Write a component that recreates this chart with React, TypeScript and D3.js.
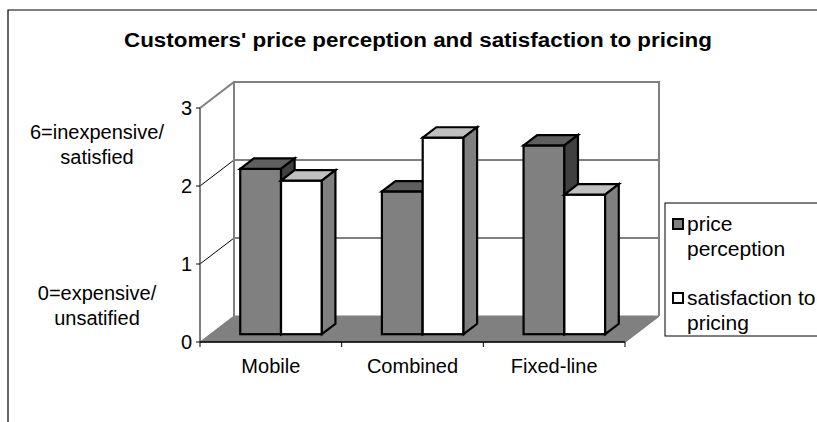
import React from "react";
import * as d3 from "d3";

// Chart data
const categories = ["Mobile", "Combined", "Fixed-line"];
const pricePerception = [2.12, 1.83, 2.42];
const satisfactionToPricing = [1.97, 2.52, 1.79];
const yTicks = [0, 1, 2, 3];
const legendLabels = [
  ["price", "perception"],
  ["satisfaction to", "pricing"],
];
const axisNotesTop = ["6=inexpensive/", "satisfied"];
const axisNotesBottom = ["0=expensive/", "unsatified"];
const title = "Customers' price perception and satisfaction to pricing";

const W = 817;
const H = 422;
const FONT = "'Liberation Sans', Arial, Helvetica, sans-serif";

// 3D box: front plane + depth vector
const plot = { left: 200, right: 625, top: 108, bottom: 342 };
const depth = { dx: 34, dy: -26 };
const barFront = 0.3; // fraction of depth where bar front sits
const barDepth = 0.4; // fraction of depth occupied by a bar

const seriesStyles = [
  { front: "#808080", top: "#5f5f5f", side: "#404040" },
  { front: "#ffffff", top: "#c0c0c0", side: "#808080" },
];

export default function App() {
  const y = d3.scaleLinear().domain([0, 3]).range([plot.bottom, plot.top]);
  const x = d3.scaleBand<string>().domain(categories).range([plot.left, plot.right]).padding(0);
  const bw = x.bandwidth();
  const groupW = bw * 0.576;
  const barW = groupW / 2;
  const groupOff = (bw - groupW) / 2;

  const series = [pricePerception, satisfactionToPricing];
  const fx = depth.dx * barFront;
  const fy = depth.dy * barFront;
  const bdx = depth.dx * barDepth;
  const bdy = depth.dy * barDepth;

  const pts = (p: [number, number][]) => p.map((q) => q.join(",")).join(" ");

  const bars: React.ReactNode[] = [];
  categories.forEach((c, ci) => {
    series.forEach((vals, si) => {
      const v = vals[ci];
      const x0 = (x(c) as number) + groupOff + si * barW + fx;
      const x1 = x0 + barW;
      const yt = y(v) + fy;
      const yb = y(0) + fy;
      const st = seriesStyles[si];
      bars.push(
        <g key={`${c}-${si}`} stroke="#000" strokeWidth={2.2} strokeLinejoin="miter">
          <rect x={x0} y={yt} width={barW} height={yb - yt} fill={st.front} />
          <polygon
            points={pts([
              [x0, yt],
              [x1, yt],
              [x1 + bdx, yt + bdy],
              [x0 + bdx, yt + bdy],
            ])}
            fill={st.top}
          />
          <polygon
            points={pts([
              [x1, yt],
              [x1 + bdx, yt + bdy],
              [x1 + bdx, yb + bdy],
              [x1, yb],
            ])}
            fill={st.side}
          />
        </g>
      );
    });
  });

  const bx = plot.left + depth.dx;
  const bxr = plot.right + depth.dx;

  return (
    <svg
      width={W}
      height={H}
      style={{ position: "absolute", left: 0, top: 0, background: "#fff" }}
      fontFamily={FONT}
    >
      {/* chart frame */}
      <path d={`M8,${H} V10 H${W}`} fill="none" stroke="#000" strokeWidth={1.2} />

      {/* title */}
      <text
        x={124}
        y={47}
        fontSize={20}
        fontWeight="bold"
        textLength={588}
        lengthAdjust="spacingAndGlyphs"
      >
        {title}
      </text>

      {/* floor */}
      <polygon
        points={pts([
          [plot.left, y(0)],
          [plot.right, y(0)],
          [bxr, y(0) + depth.dy],
          [bx, y(0) + depth.dy],
        ])}
        fill="#808080"
        stroke="#808080"
        strokeWidth={1}
      />

      {/* back wall gridlines */}
      {yTicks
        .filter((t) => t > 0 && t < 3)
        .map((t) => (
          <line key={`g${t}`} x1={bx} x2={bxr} y1={y(t) + depth.dy} y2={y(t) + depth.dy} stroke="#000" strokeWidth={1} />
        ))}
      {/* side wall gridlines */}
      {yTicks
        .filter((t) => t > 0 && t < 3)
        .map((t) => (
          <line key={`s${t}`} x1={plot.left} x2={bx} y1={y(t)} y2={y(t) + depth.dy} stroke="#000" strokeWidth={1} />
        ))}

      {/* wall outlines */}
      <path
        d={`M${plot.left},${y(3)} L${bx},${y(3) + depth.dy} H${bxr} V${y(0) + depth.dy}`}
        fill="none"
        stroke="#808080"
        strokeWidth={2}
      />
      <line x1={bx} x2={bx} y1={y(3) + depth.dy} y2={y(0) + depth.dy} stroke="#808080" strokeWidth={2} />

      {/* value axis */}
      <line x1={plot.left} x2={plot.left} y1={y(3)} y2={y(0)} stroke="#555" strokeWidth={1.5} />
      {yTicks.map((t) => (
        <g key={`t${t}`}>
          <line x1={plot.left - 4} x2={plot.left} y1={y(t)} y2={y(t)} stroke="#000" strokeWidth={1} />
          <text x={plot.left - 8} y={y(t)} fontSize={20} textAnchor="end" dominantBaseline="central">
            {t}
          </text>
        </g>
      ))}

      {/* axis notes */}
      {axisNotesTop.map((s, i) => (
        <text key={`nt${i}`} x={97} y={132 + i * 25} fontSize={20} textAnchor="middle" dominantBaseline="central">
          {s}
        </text>
      ))}
      {axisNotesBottom.map((s, i) => (
        <text key={`nb${i}`} x={97} y={293 + i * 25} fontSize={20} textAnchor="middle" dominantBaseline="central">
          {s}
        </text>
      ))}

      {/* bars */}
      {bars}

      {/* category axis */}
      <line x1={plot.left} x2={plot.right} y1={y(0)} y2={y(0)} stroke="#000" strokeWidth={1.5} />
      <line x1={plot.right} x2={bxr} y1={y(0)} y2={y(0) + depth.dy} stroke="#808080" strokeWidth={1.5} />
      {[...categories.map((c) => x(c) as number), plot.right].map((px, i) => (
        <line key={`ct${i}`} x1={px} x2={px} y1={y(0)} y2={y(0) + 5} stroke="#000" strokeWidth={1} />
      ))}
      {categories.map((c) => (
        <text key={c} x={(x(c) as number) + bw / 2} y={373} fontSize={20} textAnchor="middle">
          {c}
        </text>
      ))}

      {/* legend */}
      <rect x={665} y={203} width={200} height={133} fill="#fff" stroke="#000" strokeWidth={1} />
      {legendLabels.map((lines, i) => {
        const top = i === 0 ? 219 : 293;
        return (
          <g key={`l${i}`}>
            <rect x={673} y={top} width={10} height={10} fill={seriesStyles[i].front} stroke="#000" strokeWidth={2} />
            {lines.map((s, j) => (
              <text key={j} x={687} y={top + 12 + j * 25} fontSize={21}>
                {s}
              </text>
            ))}
          </g>
        );
      })}
    </svg>
  );
}
